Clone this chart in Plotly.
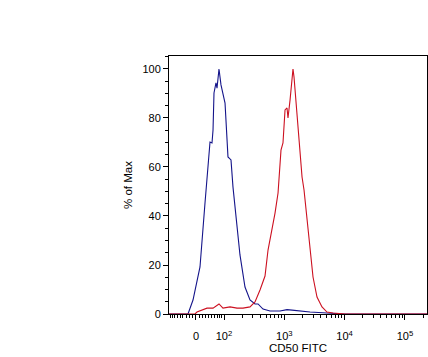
import numpy as np
import plotly.graph_objects as go

# x values are display positions on the biexponential axis, in decades (10^2 -> 2, 10^3 -> 3 ...)
blue_x = [1.088, 1.403, 1.486, 1.602, 1.685, 1.735, 1.768, 1.801, 1.818, 1.834, 1.867, 1.884,
          1.917, 1.950, 1.983, 2.017, 2.066, 2.116, 2.149, 2.216, 2.265, 2.348, 2.431, 2.514,
          2.564, 2.647, 2.763, 2.929, 3.045, 3.128, 3.260, 3.426, 3.708, 4.007, 5.366]
blue_y = [0, 0, 5.7, 19.2, 45.3, 62.9, 70.2, 69.8, 75.1, 90.2, 94.3, 92.2,
          100, 93.5, 90.2, 86.1, 64.1, 62.9, 51.8, 35.5, 24.1, 11.0, 5.7, 4.1,
          4.1, 2.0, 1.2, 1.2, 1.8, 1.6, 1.2, 0.8, 0.4, 0, 0]

red_x = [1.088, 1.519, 1.552, 1.718, 1.818, 1.917, 1.983, 2.100, 2.216, 2.315, 2.431, 2.514,
         2.597, 2.680, 2.730, 2.796, 2.846, 2.896, 2.945, 2.978, 3.012, 3.045, 3.061, 3.095,
         3.128, 3.144, 3.161, 3.194, 3.227, 3.294, 3.327, 3.376, 3.426, 3.476, 3.542, 3.625,
         3.708, 3.808, 4.007, 5.366]
red_y = [0, 0, 0.8, 2.4, 2.4, 4.1, 2.4, 2.9, 2.4, 2.4, 2.9, 4.9,
         9.8, 15.5, 26.1, 34.3, 41.2, 49.4, 66.9, 69.8, 83.3, 84.1, 80.0, 87.3,
         96.7, 100, 96.7, 87.3, 76.3, 55.9, 50.6, 38.4, 24.9, 15.1, 6.9, 2.9,
         0.8, 0.4, 0, 0]

x_tick_vals = [1.535, 2, 3, 4, 5]
x_tick_text = ["0", "10<sup>2</sup>", "10<sup>3</sup>", "10<sup>4</sup>", "10<sup>5</sup>"]
y_tick_vals = [0, 20, 40, 60, 80, 100]

X_MIN, X_MAX = 1.088, 5.366
Y_MIN, Y_MAX = 0, 105.3

# minor tick positions (biexponential-style scale)
zero_pos, c = 1.535, 77.6
lin = [v for v in range(-90, 100, 10) if v != 0]
minor_x = [zero_pos + np.arcsinh(v / c) / np.log(10) for v in lin]
for d in (2, 3, 4, 5):
    for k in range(2, 10):
        p = d + np.log10(k)
        if p < X_MAX:
            minor_x.append(p)
minor_x = [float(p) for p in minor_x if X_MIN < p < X_MAX]

fig = go.Figure()
fig.add_trace(go.Scatter(x=blue_x, y=blue_y, mode="lines",
                         line=dict(color="#14148a", width=1.1), showlegend=False))
fig.add_trace(go.Scatter(x=red_x, y=red_y, mode="lines",
                         line=dict(color="#cc1020", width=1.1), showlegend=False))

font = dict(family="Liberation Sans, Arial, sans-serif", size=11, color="black")
title_font = dict(family="Liberation Sans, Arial, sans-serif", size=11.5, color="black")

fig.update_layout(
    width=428, height=357,
    margin=dict(l=169, r=1, t=56, b=43),
    paper_bgcolor="white", plot_bgcolor="white",
    font=font,
    hovermode=False,
    xaxis=dict(
        range=[X_MIN, X_MAX], showgrid=False, zeroline=False,
        showline=True, linecolor="black", linewidth=1, mirror=True,
        tickmode="array", tickvals=x_tick_vals, ticktext=x_tick_text,
        ticks="outside", ticklen=5, tickcolor="black", tickwidth=1,
        ticklabelstandoff=7,
        minor=dict(tickmode="array", tickvals=minor_x, ticks="outside",
                   ticklen=3, tickcolor="black", showgrid=False),
        title=dict(text="CD50 FITC", font=title_font, standoff=1),
        layer="below traces",
    ),
    yaxis=dict(
        range=[Y_MIN, Y_MAX], showgrid=False, zeroline=False,
        showline=True, linecolor="black", linewidth=1, mirror=True,
        tickmode="array", tickvals=y_tick_vals,
        ticks="outside", ticklen=5, tickcolor="black", tickwidth=1,
        minor=dict(dtick=5, ticks="outside", ticklen=3, tickcolor="black", showgrid=False),
        title=dict(text="% of Max", font=title_font, standoff=7),
        layer="below traces",
    ),
)

fig.write_html("out.html",
               config={"displayModeBar": False, "staticPlot": True},
               post_script="document.body.style.margin='0px';document.body.style.overflow='hidden';")
